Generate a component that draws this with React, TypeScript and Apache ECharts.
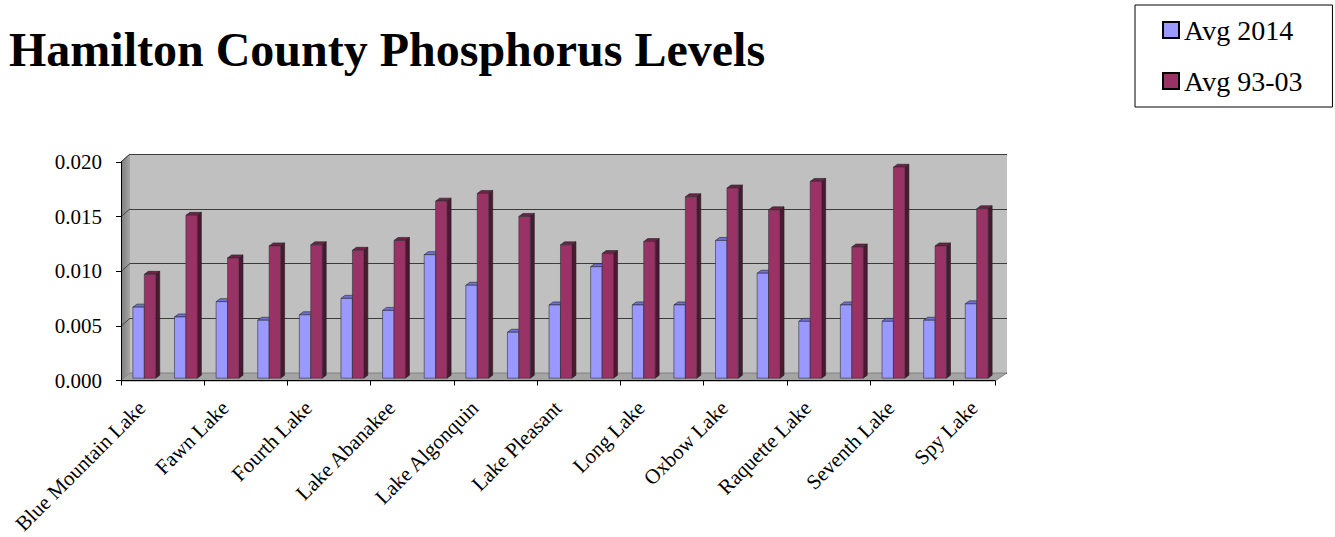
import React, { useEffect, useRef } from "react";
import * as echarts from "echarts";

const categories = [
  "Blue Mountain Lake", "Eagle Lake", "Fawn Lake", "Forked Lake", "Fourth Lake",
  "Indian Lake", "Lake Abanakee", "Lake Adirondack", "Lake Algonquin", "Lake Eaton",
  "Lake Pleasant", "Lewey Lake", "Long Lake", "Mason Lake", "Oxbow Lake",
  "Piseco Lake", "Raquette Lake", "Sacandaga Lake", "Seventh Lake", "Sixth Lake", "Spy Lake",
];
const avg2014 = [0.0065, 0.0056, 0.0070, 0.0053, 0.0058, 0.0073, 0.0062, 0.0113, 0.0085, 0.0042, 0.0067,
  0.0102, 0.0067, 0.0067, 0.0126, 0.0096, 0.0052, 0.0067, 0.0052, 0.0053, 0.0068];
const avg9303 = [0.0095, 0.0149, 0.0110, 0.0121, 0.0122, 0.0117, 0.0126, 0.0162, 0.0169, 0.0148, 0.0122,
  0.0114, 0.0125, 0.0166, 0.0174, 0.0154, 0.0180, 0.0120, 0.0193, 0.0121, 0.0155];
const seriesNames = ["Avg 2014", "Avg 93-03"];
const yTicks = { min: 0, max: 0.02, interval: 0.005 };

const FONT = "'Liberation Serif', 'Times New Roman', 'DejaVu Serif', serif";

const palette = [
  { front: "#9999ff", side: "#5a5ab0", top: "#7070d8" },
  { front: "#993366", side: "#4a1830", top: "#6e2248" },
];

function makeRender(idx: number) {
  const c = palette[idx];
  return (params: any, api: any) => {
    const i = api.value(0);
    const v = api.value(1);
    const top = api.coord([i, v]);
    const bot = api.coord([i, 0]);
    const cw = api.size([1, 0])[0];
    const bw = cw * 0.275;
    const dx = cw * 0.06;
    const dy = -2.4;
    const cx = top[0] + dx;
    const x0 = idx === 0 ? cx - bw : cx;
    const x1 = x0 + bw;
    const yT = top[1] + dy;
    const yB = bot[1] + dy;
    const d = 4;
    const e = 3;
    return {
      type: "group",
      children: [
        {
          type: "polygon",
          shape: { points: [[x1, yT], [x1 + d, yT - e], [x1 + d, yB - e], [x1, yB]] },
          style: { fill: c.side, stroke: "#222", lineWidth: 0.6 },
        },
        {
          type: "polygon",
          shape: { points: [[x0, yT], [x1, yT], [x1 + d, yT - e], [x0 + d, yT - e]] },
          style: { fill: c.top, stroke: "#222", lineWidth: 0.6 },
        },
        {
          type: "rect",
          shape: { x: x0, y: yT, width: bw, height: yB - yT },
          style: { fill: c.front, stroke: "#333", lineWidth: 0.6 },
        },
      ],
    };
  };
}

export default function App() {
  const ref = useRef<HTMLDivElement>(null);
  useEffect(() => {
    if (!ref.current) return;
    const chart = echarts.init(ref.current, undefined, { renderer: "svg" });

    // wall geometry (decoration)
    const FL = 121, FR = 995, FT = 162, FB = 381; // front plane
    const BL = 130, BR = 1007, BT = 154, BB = 373; // back plane
    const gridLinesY = [0.005, 0.01, 0.015, 0.02].map((v) => ({
      f: FB - (v / 0.02) * (FB - FT),
      b: BB - (v / 0.02) * (BB - BT),
    }));

    const graphics: any[] = [
      {
        type: "polygon",
        z: 1,
        shape: { points: [[FL, FT], [BL, BT], [BL, BB], [FL, FB]] },
        style: {
          fill: new echarts.graphic.LinearGradient(0, 0, 1, 0, [
            { offset: 0, color: "#7c7c7c" },
            { offset: 1, color: "#a6a6a6" },
          ]),
        },
      },
      {
        type: "polygon",
        z: 1,
        shape: { points: [[FL, FB], [FR, FB], [BR, BB], [BL, BB]] },
        style: { fill: "#a4a4a4", stroke: "#777", lineWidth: 0.8 },
      },
      {
        type: "line",
        z: 1,
        shape: { x1: FL, y1: FT, x2: BL, y2: BT },
        style: { stroke: "#555", lineWidth: 1 },
      },
      ...gridLinesY.map((g) => ({
        type: "line",
        z: 1,
        shape: { x1: FL, y1: g.f, x2: BL, y2: g.b },
        style: { stroke: "#444", lineWidth: 1 },
      })),
    ];

    chart.setOption({
      animation: false,
      backgroundColor: "#ffffff",
      title: {
        text: "Hamilton County Phosphorus Levels",
        left: 4,
        top: 20,
        textStyle: { fontFamily: FONT, fontSize: 48, fontWeight: "bold", color: "#000" },
      },
      legend: {
        data: seriesNames,
        orient: "vertical",
        left: 1135,
        top: 5,
        padding: [11, 30, 12, 27],
        itemWidth: 16,
        itemHeight: 16,
        itemGap: 23,
        borderColor: "#000",
        borderWidth: 1,
        icon: "rect",
        itemStyle: { borderColor: "#000", borderWidth: 2 },
        textStyle: { fontFamily: FONT, fontSize: 28, color: "#000" },
      },
      grid: [
        {
          left: BL, top: BT, width: BR - BL, height: BB - BT,
          show: true, backgroundColor: "#c0c0c0", borderWidth: 0,
        },
        { left: FL, top: FT, width: FR - FL, height: FB - FT },
      ],
      xAxis: [
        {
          type: "category", gridIndex: 0, data: categories, show: false,
        },
        {
          type: "category",
          gridIndex: 1,
          data: categories,
          z: 5,
          axisLine: { show: true, lineStyle: { color: "#000", width: 1 } },
          axisTick: { show: true, length: 5, lineStyle: { color: "#000" } },
          axisLabel: {
            interval: 1,
            rotate: 45,
            margin: 24,
            fontFamily: FONT,
            fontSize: 21,
            color: "#000",
          },
          splitLine: { show: false },
        },
      ],
      yAxis: [
        {
          type: "value", gridIndex: 0, ...yTicks,
          axisLine: { show: false }, axisTick: { show: false }, axisLabel: { show: false },
          splitLine: { show: true, lineStyle: { color: "#3c3c3c", width: 1 } },
        },
        {
          type: "value", gridIndex: 1, ...yTicks,
          z: 5,
          axisLine: { show: true, lineStyle: { color: "#000", width: 1 } },
          axisTick: { show: true, length: 5, lineStyle: { color: "#000" } },
          axisLabel: {
            margin: 19,
            fontFamily: FONT,
            fontSize: 21,
            color: "#000",
            formatter: (v: number) => v.toFixed(3),
          },
          splitLine: { show: false },
        },
      ],
      graphic: graphics,
      series: [avg2014, avg9303].map((vals, idx) => ({
        name: seriesNames[idx],
        type: "custom",
        xAxisIndex: 1,
        yAxisIndex: 1,
        z: 3,
        itemStyle: { color: palette[idx].front },
        renderItem: makeRender(idx),
        encode: { x: 0, y: 1 },
        data: vals.map((v, i) => [i, v]),
      })),
    });
    return () => chart.dispose();
  }, []);
  return (
    <div
      ref={ref}
      style={{ position: "fixed", left: 0, top: 0, width: 1335, height: 537 }}
    />
  );
}
